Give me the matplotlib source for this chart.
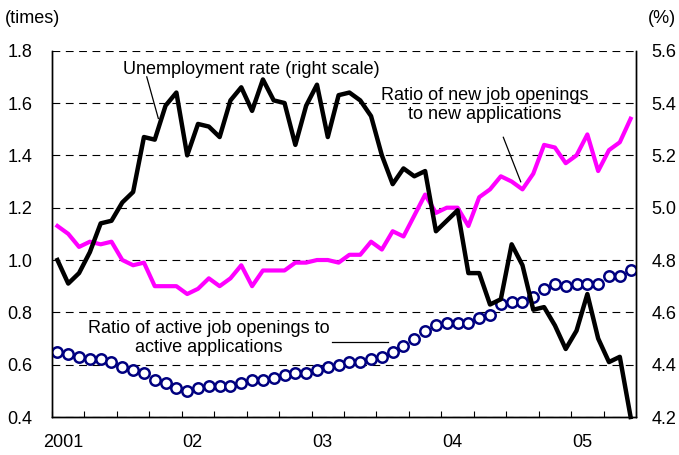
import numpy as np
import matplotlib
matplotlib.use("Agg")
import matplotlib.pyplot as plt

plt.rcParams['font.family'] = ['Liberation Sans', 'DejaVu Sans']

# 2001.01 ~ 2005.06 월별 자료
active_ratio = [0.65, 0.64, 0.63, 0.62, 0.62, 0.61, 0.59, 0.58, 0.57, 0.54, 0.53, 0.51,
                0.50, 0.51, 0.52, 0.52, 0.52, 0.53, 0.54, 0.54, 0.55, 0.56, 0.57, 0.57,
                0.58, 0.59, 0.60, 0.61, 0.61, 0.62, 0.63, 0.65, 0.67, 0.70, 0.73, 0.75,
                0.76, 0.76, 0.76, 0.78, 0.79, 0.83, 0.84, 0.84, 0.86, 0.89, 0.91, 0.90,
                0.91, 0.91, 0.91, 0.94, 0.94, 0.96]
new_ratio = [1.13, 1.10, 1.05, 1.07, 1.06, 1.07, 1.00, 0.98, 0.99, 0.90, 0.90, 0.90,
             0.87, 0.89, 0.93, 0.90, 0.93, 0.98, 0.90, 0.96, 0.96, 0.96, 0.99, 0.99,
             1.00, 1.00, 0.99, 1.02, 1.02, 1.07, 1.04, 1.11, 1.09, 1.17, 1.25, 1.18,
             1.20, 1.20, 1.13, 1.24, 1.27, 1.32, 1.30, 1.27, 1.33, 1.44, 1.43, 1.37,
             1.40, 1.48, 1.34, 1.42, 1.45, 1.54]
unemp_rate = [4.80, 4.71, 4.75, 4.83, 4.94, 4.95, 5.02, 5.06, 5.27, 5.26, 5.39, 5.44,
              5.20, 5.32, 5.31, 5.27, 5.41, 5.46, 5.37, 5.49, 5.41, 5.40, 5.24, 5.39,
              5.47, 5.27, 5.43, 5.44, 5.41, 5.35, 5.20, 5.09, 5.15, 5.12, 5.14, 4.91,
              4.95, 4.99, 4.75, 4.75, 4.63, 4.65, 4.86, 4.78, 4.61, 4.62, 4.55, 4.46,
              4.53, 4.67, 4.50, 4.41, 4.43, 4.20]
year_labels = ['2001', '02', '03', '04', '05']

months = np.arange(len(active_ratio)) + 0.5

fig = plt.figure(figsize=(6.79, 4.55), dpi=100)
ax = fig.add_axes([0.0766, 0.0835, 0.8601, 0.8051])
ax2 = ax.twinx()

# 격자선 (점선)
for v in np.arange(0.4, 1.81, 0.2):
    ax.axhline(v, color='black', lw=0.8, ls=(0, (7, 5)), zorder=0)

ax.plot(months, new_ratio, color='#ff00ff', lw=3, zorder=3)
ax.plot(months, active_ratio, 'o', color='#000080', mfc='white', mec='#000080',
        ms=7.5, mew=1.8, zorder=4)
ax2.plot(months, unemp_rate, color='black', lw=3.2, zorder=5, clip_on=False)

ax.set_xlim(0, 54)
ax.set_ylim(0.4, 1.8)
ax2.set_ylim(4.2, 5.6)
ax.set_yticks(np.arange(0.4, 1.81, 0.2))
ax.set_yticklabels(['%.1f' % v for v in np.arange(0.4, 1.81, 0.2)])
ax2.set_yticks(np.arange(4.2, 5.61, 0.2))
ax2.set_yticklabels(['%.1f' % v for v in np.arange(4.2, 5.61, 0.2)])

ax.set_xticks(np.arange(0, 55, 3))
ax.set_xticklabels([])
ax.set_xticks(np.arange(len(year_labels)) * 12 + 1, minor=True)
ax.set_xticklabels(year_labels, minor=True)
ax.tick_params(axis='x', which='major', direction='in', length=4, width=0.8)
ax.tick_params(axis='x', which='minor', length=0, pad=12, labelsize=13)
ax.tick_params(axis='y', length=0, pad=14, labelsize=13)
ax2.tick_params(axis='y', length=0, pad=11, labelsize=13)

for a in (ax, ax2):
    a.spines['top'].set_visible(False)
    for s in ('left', 'right', 'bottom'):
        a.spines[s].set_linewidth(1.0)

fig.text(0.007, 0.96, '(times)', fontsize=13, ha='left', va='center')
fig.text(0.995, 0.96, '(%)', fontsize=13, ha='right', va='center')

# 주석
ax.text(18.47, 1.729, 'Unemployment rate (right scale)', fontsize=13, ha='center', va='center')
ax.plot([8.76, 9.83], [1.70, 1.541], color='black', lw=0.9)
ax.text(40.04, 1.591, 'Ratio of new job openings\nto new applications', fontsize=13,
        ha='center', va='center', linespacing=1.15)
ax.plot([41.73, 43.34], [1.469, 1.299], color='black', lw=0.9)
ax.text(14.52, 0.701, 'Ratio of active job openings to\nactive applications', fontsize=13,
        ha='center', va='center', linespacing=1.15)
ax.plot([25.86, 31.1], [0.687, 0.687], color='black', lw=0.9)

plt.savefig('out.png', dpi=100)
